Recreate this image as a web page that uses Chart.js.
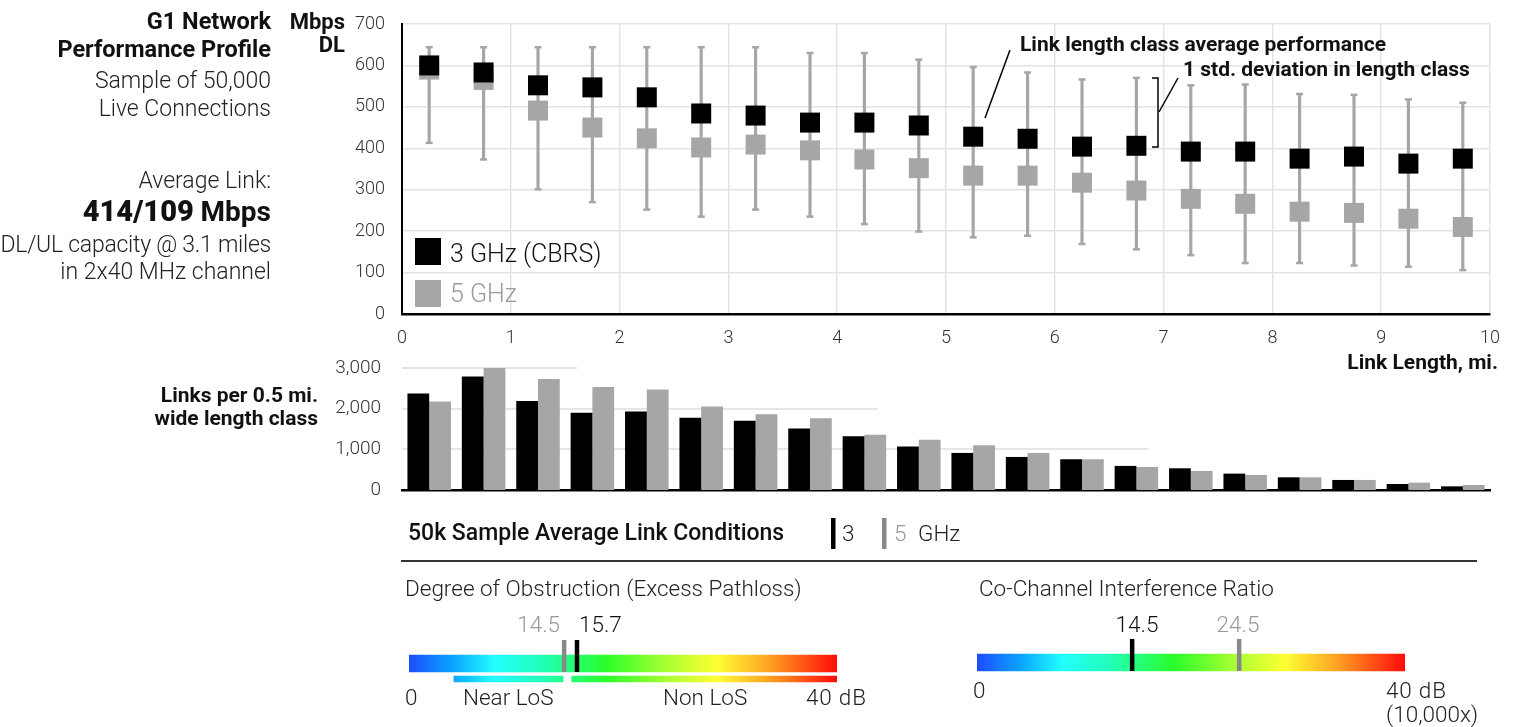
<!DOCTYPE html>
<html><head><meta charset="utf-8">
<script src="https://cdn.jsdelivr.net/npm/chart.js@4.4.1/dist/chart.umd.min.js"></script>
<style>
html,body{margin:0;padding:0;background:#fff;}
#root{position:relative;width:1515px;height:727px;overflow:hidden;font-family:Roboto,'Open Sans',sans-serif;color:#222;background:#fff;}
canvas{position:absolute;}
.t{position:absolute;white-space:nowrap;line-height:1;}
svg{position:absolute;left:0;top:0;pointer-events:none;}
</style></head><body><div id="root">
<canvas id="perf" width="1175" height="350" style="left:340px;top:0px"></canvas>
<canvas id="counts" width="1215" height="152" style="left:300px;top:350px"></canvas>
<canvas id="g1" width="428" height="50" style="left:409px;top:636px"></canvas>
<canvas id="g2" width="428" height="50" style="left:977px;top:635px"></canvas>
<svg width="1515" height="727">
  <line x1="1010" y1="50" x2="985" y2="118" stroke="#000" stroke-width="1.5"/>
  <polyline points="1152,78 1158,78 1158,147 1152,147" fill="none" stroke="#000" stroke-width="1.5"/>
  <line x1="1159" y1="112" x2="1178" y2="78" stroke="#000" stroke-width="1.5"/>
  <line x1="401" y1="561" x2="1477" y2="561" stroke="#333" stroke-width="2"/>
  <rect x="831" y="518" width="4.5" height="31" fill="#000"/>
  <rect x="882" y="518" width="4.5" height="31" fill="#888"/>
  <rect x="415" y="238" width="26" height="27" fill="#000"/>
  <rect x="415" y="280" width="26" height="27" fill="#a6a6a6"/>
</svg>
</div>
<script>
// ---------------- data ----------------
const lengthClasses = [0.25,0.75,1.25,1.75,2.25,2.75,3.25,3.75,4.25,4.75,5.25,5.75,6.25,6.75,7.25,7.75,8.25,8.75,9.25,9.75];
const dl3GHz = [600,583,552,547,523,484,479,462,462,455,428,423,404,406,392,392,375,380,363,375];
const dl5GHz = [590,565,491,450,424,402,409,395,373,352,334,334,317,298,278,266,247,244,230,210];
const stdHigh = [644,644,644,644,644,644,644,630,630,614,596,583,566,570,552,554,531,529,518,510];
const stdLow  = [413,373,301,270,252,235,252,235,217,199,185,189,169,156,142,123,123,117,114,106];
const links3GHz = [2375,2794,2186,1898,1931,1775,1705,1512,1323,1068,912,813,756,592,534,403,312,247,148,90];
const links5GHz = [2177,3000,2728,2531,2473,2054,1865,1767,1356,1233,1101,912,756,567,468,370,312,247,181,123];
const xTicks = [0,1,2,3,4,5,6,7,8,9,10];
const yTicksDL = [0,100,200,300,400,500,600,700];
const yTicksLinks = [0,1000,2000,3000];
const gaugeRange = [0, 40];
const obstructionDb = [15.7, 14.5];   // 3 GHz, 5 GHz
const interferenceDb = [14.5, 24.5];  // 3 GHz, 5 GHz
const nearLoS = [4.2, 14.4];
const nonLoS = [15.2, 40];
const seriesNames = ['3 GHz (CBRS)', '5 GHz'];
const seriesColors = ['#000000', '#a6a6a6'];
const markerColors = ['#000000', '#888888'];

Chart.defaults.font.family = "Roboto, 'Open Sans', sans-serif";
Chart.defaults.font.weight = '300';
Chart.defaults.color = '#333';
Chart.defaults.animation = false;

// ---------------- labels ----------------
const root = document.getElementById('root');
function label(txt, x, y, o = {}) {
  const d = document.createElement('div');
  d.className = 't';
  d.innerHTML = txt;
  const s = o.s || 22;
  d.style.fontSize = s + 'px';
  d.style.fontWeight = o.w || 300;
  d.style.color = o.c || '#222';
  if (o.ls) d.style.letterSpacing = o.ls + 'px';
  d.style.top = (y - s * 0.5) + 'px';
  if (o.a === 'r') { d.style.right = (1515 - x) + 'px'; d.style.textAlign = 'right'; }
  else if (o.a === 'c') { d.style.left = x + 'px'; d.style.transform = 'translateX(-50%)'; }
  else d.style.left = x + 'px';
  root.appendChild(d);
}
label('G1 Network', 271, 22, {a:'r', w:700, s:23.5, c:'#111'});
label('Performance Profile', 271, 50, {a:'r', w:700, s:23.5, c:'#111'});
label('Sample of 50,000', 271, 80, {a:'r', s:23});
label('Live Connections', 271, 108, {a:'r', s:23});
label('Average Link:', 271, 180, {a:'r', s:23});
label('<span style="font-weight:900;font-size:29px">414/109</span> <span style="font-weight:700">Mbps</span>', 271, 211, {a:'r', s:28, c:'#111'});
label('DL/UL capacity @ 3.1 miles', 271, 244, {a:'r', s:23, ls:-0.25});
label('in 2x40 MHz channel', 271, 271, {a:'r', s:23});
label('Mbps', 345, 22, {a:'r', w:700, s:22, c:'#111'});
label('DL', 345, 45, {a:'r', w:700, s:22, c:'#111'});
label('Link Length, mi.', 1498, 362, {a:'r', w:700, s:21, c:'#111'});
label('Links per 0.5 mi.', 318, 395, {a:'r', w:700, s:21, c:'#111'});
label('wide length class', 318, 418, {a:'r', w:700, s:21, c:'#111'});
label('Link length class average performance', 1020, 44, {w:700, s:21, c:'#111'});
label('1 std. deviation in length class', 1183, 69, {w:700, s:21, c:'#111'});
label(seriesNames[0], 450, 253, {s:25, c:'#111'});
label(seriesNames[1], 450, 293, {s:25, c:'#999'});
label('50k Sample Average Link Conditions', 408, 532, {w:500, s:23, c:'#111'});
label('3', 842, 533, {s:22.5});
label('5', 894, 533, {s:22.5, c:'#999'});
label('GHz', 918, 533, {s:22.5});
label('Degree of Obstruction (Excess Pathloss)', 405, 588, {s:22.5});
label('Co-Channel Interference Ratio', 979, 588, {s:22.5});
label('14.5', 560, 624, {a:'r', s:22.5, c:'#999'});
label('15.7', 579, 624, {s:22.5, c:'#111'});
label('0', 405, 697, {s:22.5});
label('Near LoS', 463, 697, {s:22.5});
label('Non LoS', 663, 697, {s:22.5});
label('40 dB', 806, 697, {s:22.5, ls:0.8});
label('14.5', 1137, 624, {a:'c', s:22.5, c:'#111'});
label('24.5', 1238, 624, {a:'c', s:22.5, c:'#999'});
label('0', 973, 690, {s:22.5});
label('40 dB', 1386, 690, {s:22.5, ls:0.8});
label('(10,000x)', 1386, 714, {s:22.5});

// ---------------- top chart ----------------
new Chart(document.getElementById('perf'), {
  type: 'scatter',
  data: {
    datasets: [
      { label: seriesNames[0], type: 'scatter', order: 0,
        data: lengthClasses.map((x, i) => ({x, y: dl3GHz[i]})),
        pointStyle: 'rect', radius: 14.14, backgroundColor: seriesColors[0], borderWidth: 0 },
      { label: seriesNames[1], type: 'scatter', order: 1,
        data: lengthClasses.map((x, i) => ({x, y: dl5GHz[i]})),
        pointStyle: 'rect', radius: 14.14, backgroundColor: seriesColors[1], borderWidth: 0 },
      { label: 'caps', type: 'scatter', order: 2,
        data: lengthClasses.map((x, i) => ({x, y: stdHigh[i]})).concat(lengthClasses.map((x, i) => ({x, y: stdLow[i]}))),
        pointStyle: 'line', radius: 3.5, borderColor: '#a6a6a6', borderWidth: 2.5 },
      { label: 'std', type: 'bar', order: 3, grouped: false,
        data: lengthClasses.map((x, i) => ({x, y: [stdLow[i], stdHigh[i]]})),
        barThickness: 2.5, backgroundColor: '#a6a6a6', borderWidth: 0 }
    ]
  },
  options: {
    responsive: false, animation: false,
    layout: { autoPadding: false, padding: { top: 24, right: 25, left: 0, bottom: 0 } },
    plugins: { legend: { display: false }, tooltip: { enabled: false } },
    scales: {
      x: { type: 'linear', min: 0, max: 10, offset: false,
        afterBuildTicks: s => { s.ticks = xTicks.map(v => ({value: v})); },
        afterFit: s => { s.height = 36; },
        grid: { color: '#e3e3e3', lineWidth: 1.5, drawTicks: true, tickLength: 14, tickColor: 'rgba(0,0,0,0)', offset: false },
        border: { color: '#000', width: 2.5 },
        ticks: { padding: 0, font: { size: 18 }, color: '#333' } },
      y: { min: 0, max: 700,
        afterBuildTicks: s => { s.ticks = yTicksDL.map(v => ({value: v})); },
        afterFit: s => { s.width = 62; },
        grid: { color: '#e3e3e3', lineWidth: 1.5, drawTicks: true, tickLength: 17, tickColor: 'rgba(0,0,0,0)' },
        border: { color: '#000', width: 2 },
        ticks: { padding: 0, font: { size: 18 }, color: '#333' } }
    }
  }
});

// ---------------- counts bar chart ----------------
const partialGrid = {
  id: 'partialGrid',
  beforeDatasetsDraw(chart, args, opts) {
    const {ctx, scales: {x, y}, chartArea} = chart;
    ctx.save();
    ctx.strokeStyle = '#e6e6e6'; ctx.lineWidth = 2;
    opts.ends.forEach(([v, endX]) => {
      const py = Math.round(y.getPixelForValue(v));
      ctx.beginPath(); ctx.moveTo(chartArea.left, py); ctx.lineTo(x.getPixelForValue(endX), py); ctx.stroke();
    });
    ctx.restore();
  }
};
new Chart(document.getElementById('counts'), {
  type: 'bar',
  data: {
    datasets: [
      { label: seriesNames[0], data: lengthClasses.map((x, i) => ({x, y: links3GHz[i]})),
        backgroundColor: seriesColors[0], borderWidth: 0, categoryPercentage: 0.8, barPercentage: 1.0 },
      { label: seriesNames[1], data: lengthClasses.map((x, i) => ({x, y: links5GHz[i]})),
        backgroundColor: seriesColors[1], borderWidth: 0, categoryPercentage: 0.8, barPercentage: 1.0 }
    ]
  },
  options: {
    responsive: false, animation: false,
    layout: { autoPadding: false, padding: { top: 18, right: 25, bottom: 0, left: 0 } },
    plugins: { legend: { display: false }, tooltip: { enabled: false },
      partialGrid: { ends: [[1000, 6.86], [2000, 4.37], [3000, 1.61]] } },
    scales: {
      x: { type: 'linear', min: 0, max: 10, offset: false,
        grid: { display: false, drawTicks: false, offset: false }, ticks: { display: false },
        afterFit: s => { s.height = 12; },
        border: { color: '#000', width: 2.5 } },
      y: { min: 0, max: 3000,
        afterBuildTicks: s => { s.ticks = yTicksLinks.map(v => ({value: v})); },
        afterFit: s => { s.width = 102; },
        grid: { display: false, drawTicks: true, tickLength: 21 },
        border: { display: false },
        ticks: { padding: 0, font: { size: 19 }, color: '#333' } }
    }
  },
  plugins: [partialGrid]
});

// ---------------- gauges ----------------
function gaugeGradient(c) {
  const chart = c.chart;
  if (!chart.chartArea) return '#888';
  const xs = chart.scales.x;
  const g = chart.ctx.createLinearGradient(xs.getPixelForValue(gaugeRange[0]), 0, xs.getPixelForValue(gaugeRange[1]), 0);
  g.addColorStop(0.00, '#1d4cff');
  g.addColorStop(0.10, '#0aa2ff');
  g.addColorStop(0.20, '#22ffff');
  g.addColorStop(0.32, '#22ffb0');
  g.addColorStop(0.46, '#2aff2a');
  g.addColorStop(0.60, '#a8ff33');
  g.addColorStop(0.72, '#ffff33');
  g.addColorStop(0.85, '#ff9a22');
  g.addColorStop(1.00, '#ff0a0a');
  return g;
}
function makeGauge(id, values, zones) {
  const datasets = [
    { type: 'bar', indexAxis: 'y', grouped: false, order: 5,
      data: [{x: gaugeRange, y: 27.5}], barThickness: 17, backgroundColor: gaugeGradient, borderWidth: 0 }
  ];
  if (zones) datasets.push({ type: 'bar', indexAxis: 'y', grouped: false, order: 4,
      data: zones.map(z => ({x: z, y: 43})), barThickness: 6, backgroundColor: gaugeGradient, borderWidth: 0 });
  values.forEach((v, i) => datasets.push({ type: 'scatter', order: i, clip: false,
      data: [{x: v, y: 20}], pointStyle: 'line', rotation: 90, radius: 16,
      borderColor: markerColors[i], borderWidth: 4.5 }));
  new Chart(document.getElementById(id), {
    type: 'scatter',
    data: { datasets },
    options: {
      responsive: false, animation: false,
      layout: { autoPadding: false, padding: 0 },
      plugins: { legend: { display: false }, tooltip: { enabled: false } },
      scales: {
        x: { type: 'linear', min: gaugeRange[0], max: gaugeRange[1], display: false, offset: false },
        y: { type: 'linear', min: 0, max: 50, reverse: true, display: false, offset: false }
      }
    }
  });
}
makeGauge('g1', obstructionDb, [nearLoS, nonLoS]);
makeGauge('g2', interferenceDb, null);
</script>
</body></html>
